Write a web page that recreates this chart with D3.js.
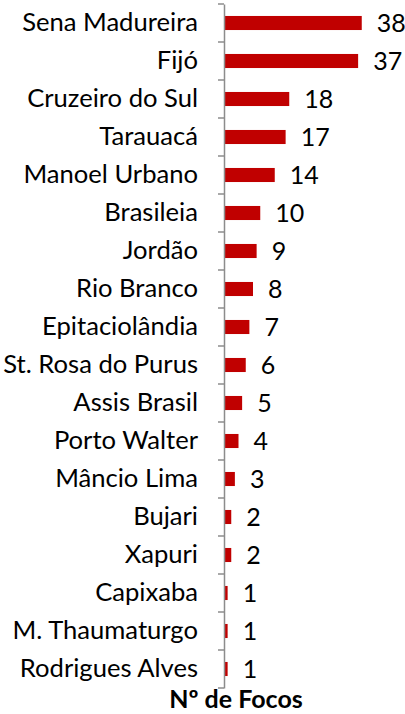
<!DOCTYPE html>
<html><head><meta charset="utf-8">
<script src="https://cdn.jsdelivr.net/npm/d3@7"></script>
<style>body{margin:0;background:#fff}svg{display:block}</style>
</head><body>
<svg id="c" width="405" height="714"></svg>
<script>
const categories = ["Sena Madureira","Fijó","Cruzeiro do Sul","Tarauacá","Manoel Urbano","Brasileia","Jordão","Rio Branco","Epitaciolândia","St. Rosa do Purus","Assis Brasil","Porto Walter","Mâncio Lima","Bujari","Xapuri","Capixaba","M. Thaumaturgo","Rodrigues Alves"];
const values = [38,37,18,17,14,10,9,8,7,6,5,4,3,2,2,1,1,1];
const axisTitle = "Nº de Focos";

const svg = d3.select("#c");
const font = "Lato, 'Open Sans', sans-serif";
const x = d3.scaleLinear().domain([0,40]).range([224,369]);
const y = d3.scaleBand().domain(categories).range([4,688]).paddingInner(0.63).paddingOuter(0.315);

svg.selectAll("rect.bar").data(values).enter().append("rect")
  .attr("class","bar")
  .attr("x", x(0)+1)
  .attr("y",(d,i)=>y(categories[i]))
  .attr("width",d=>x(d)-x(0)-1)
  .attr("height",y.bandwidth())
  .attr("fill","#C00000");

svg.selectAll("text.val").data(values).enter().append("text")
  .attr("class","val")
  .attr("x",d=>x(d)+15)
  .attr("y",(d,i)=>y(categories[i])+y.bandwidth()/2)
  .attr("dy","0.36em")
  .attr("font-family",font).attr("font-size",25).attr("fill","#000")
  .text(d=>d);

const yAxis = d3.axisLeft(d3.scaleBand().domain(categories).range([4,688]))
  .tickSize(0).tickPadding(26);
const g = svg.append("g").attr("transform",`translate(${x(0)},0)`).call(yAxis);
g.select(".domain").attr("stroke","#8c8c8c").attr("stroke-width",1.5);
g.selectAll(".tick text").attr("font-family",font).attr("font-size",25.6).attr("fill","#000");
const bounds = d3.range(categories.length+1).map(i=>4+i*(684/categories.length));
g.selectAll("line.b").data(bounds).enter().append("line")
  .attr("x1",-6).attr("x2",0).attr("y1",d=>d).attr("y2",d=>d)
  .attr("stroke","#8c8c8c").attr("stroke-width",1.5);

svg.append("text").attr("x",236).attr("y",708).attr("text-anchor","middle")
  .attr("font-family",font).attr("font-size",25).attr("font-weight","bold").attr("fill","#000")
  .text(axisTitle);
</script>
</body></html>
